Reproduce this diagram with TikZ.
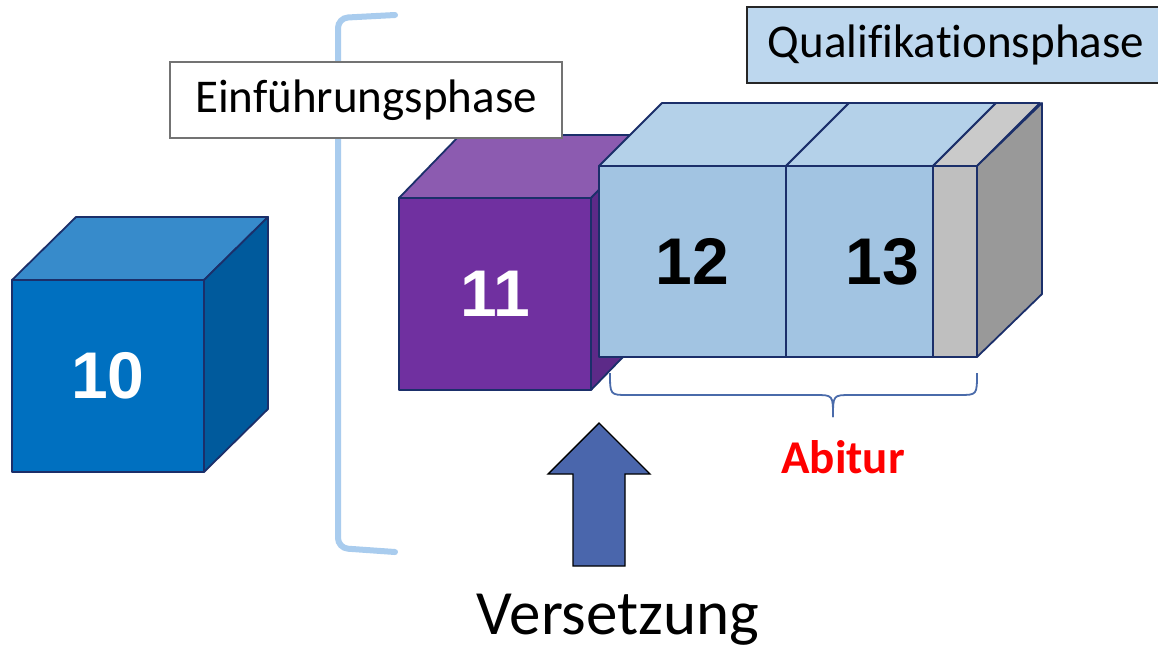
\documentclass[tikz,border=0pt]{standalone}
\usepackage{fontspec}
\setmainfont{Carlito}[Ligatures={NoCommon}]
\newfontfamily\arialfont{Liberation Sans}
\definecolor{blueF}{HTML}{0070C0}
\definecolor{blueT}{HTML}{378BCB}
\definecolor{blueR}{HTML}{005A9C}
\definecolor{purpF}{HTML}{7030A0}
\definecolor{purpT}{HTML}{8C5BB0}
\definecolor{purpR}{HTML}{5C2A88}
\definecolor{qF}{HTML}{A2C4E2}
\definecolor{qT}{HTML}{B4D1E9}
\definecolor{grayF}{HTML}{BFBFBF}
\definecolor{grayT}{HTML}{CACACA}
\definecolor{grayR}{HTML}{999999}
\definecolor{edge}{HTML}{1B2F6A}
\definecolor{bracketc}{HTML}{A9CCEE}
\definecolor{bracec}{HTML}{4A6BAA}
\definecolor{arrowc}{HTML}{4A66AC}
\definecolor{qbox}{HTML}{BDD7EE}
\definecolor{abiturc}{HTML}{FF0000}
\begin{document}
\begin{tikzpicture}[x=1pt,y=-1pt,
  face/.style={draw=edge,line width=1.8pt,line join=round},
  front/.style={face,rectangle,outer sep=0pt,inner sep=0pt,minimum height=#1},
  numw/.style={text=white,font=\arialfont\bfseries\fontsize{66}{70}\selectfont},
  numb/.style={text=black,font=\arialfont\bfseries\fontsize{66}{70}\selectfont},
  labelbox/.style={rectangle,outer sep=0pt,inner sep=0pt,font=\fontsize{47}{52}\selectfont}]
\useasboundingbox (0,0) rectangle (1158,654);
\fill[white] (0,0) rectangle (1158,654);

% bracket
\draw[bracketc,line width=6pt,line cap=round,rounded corners=10pt]
  (395,15) -- (338,18) -- (338,548) -- (395,552);

% cube 10
\node[front=192pt,minimum width=192pt,fill=blueF,numw] (c10) at (108,376) {10};
\filldraw[face,fill=blueT] (c10.north west) -- ++(64,-63) -- ++(192,0) -- (c10.north east) -- cycle;
\filldraw[face,fill=blueR] (c10.north east) -- ++(64,-63) -- ++(0,192) -- (c10.south east) -- cycle;

% cube 11
\node[front=192pt,minimum width=192pt,fill=purpF,numw] (c11) at (495,294) {11};
\filldraw[face,fill=purpT] (c11.north west) -- ++(61,-63) -- ++(192,0) -- (c11.north east) -- cycle;
\filldraw[face,fill=purpR] (c11.north east) -- ++(61,-63) -- ++(0,192) -- (c11.south east) -- cycle;

% Einfuehrungsphase label
\node[labelbox,draw=black!55,line width=1.2pt,fill=white,minimum width=392pt,minimum height=76pt] (einf) at (366,100) {Einführungsphase};

% block 12 / 13
\node[front=191pt,minimum width=187pt,fill=qF,numb] (q12) at (692.5,261.5) {12};
\node[front=191pt,minimum width=147pt,fill=qF,numb] (q13) at (859.5,261.5) {\hspace*{46pt}13};
\node[front=191pt,minimum width=44pt,fill=grayF] (qg) at (955,261.5) {};
\filldraw[face,fill=qT] (q12.north west) -- ++(63,-63) -- ++(187,0) -- (q12.north east) -- cycle;
\filldraw[face,fill=qT] (q13.north west) -- ++(63,-63) -- ++(147,0) -- (q13.north east) -- cycle;
\filldraw[face,fill=grayT] (qg.north west) -- ++(63,-63) -- ++(44,0) -- (qg.north east) -- cycle;
\filldraw[face,fill=grayR] (qg.north east) -- ++(65,-63) -- ++(0,191) -- (qg.south east) -- cycle;

% Qualifikationsphase label
\node[labelbox,draw=black!85,line width=1.6pt,fill=qbox,minimum width=416pt,minimum height=76pt] (qual) at (955,45) {\hspace*{2pt}Qualifikationsphase};

% Abitur brace
\coordinate (bl) at (610,373);
\coordinate (br) at (977,373);
\coordinate (bt) at (833,417);
\draw[bracec,line width=1.8pt]
  (bl) .. controls (610,395) .. (628,395) -- (815,395) .. controls (833,395) .. (bt);
\draw[bracec,line width=1.8pt]
  (br) .. controls (977,395) .. (959,395) -- (851,395) .. controls (833,395) .. (bt);
\node[text=abiturc,font=\bfseries\fontsize{47}{52}\selectfont] (abitur) at (843,457) {Abitur};

% Versetzung arrow
\filldraw[fill=arrowc,draw=black,line width=1.4pt,line join=miter]
  (573,566) -- (573,474) -- (548,474) -- (599,423) -- (650,474) -- (625,474) -- (625,566) -- cycle;
\node[font=\fontsize{63}{68}\selectfont] (vers) at (618,620) {Versetzung};
\end{tikzpicture}
\end{document}
